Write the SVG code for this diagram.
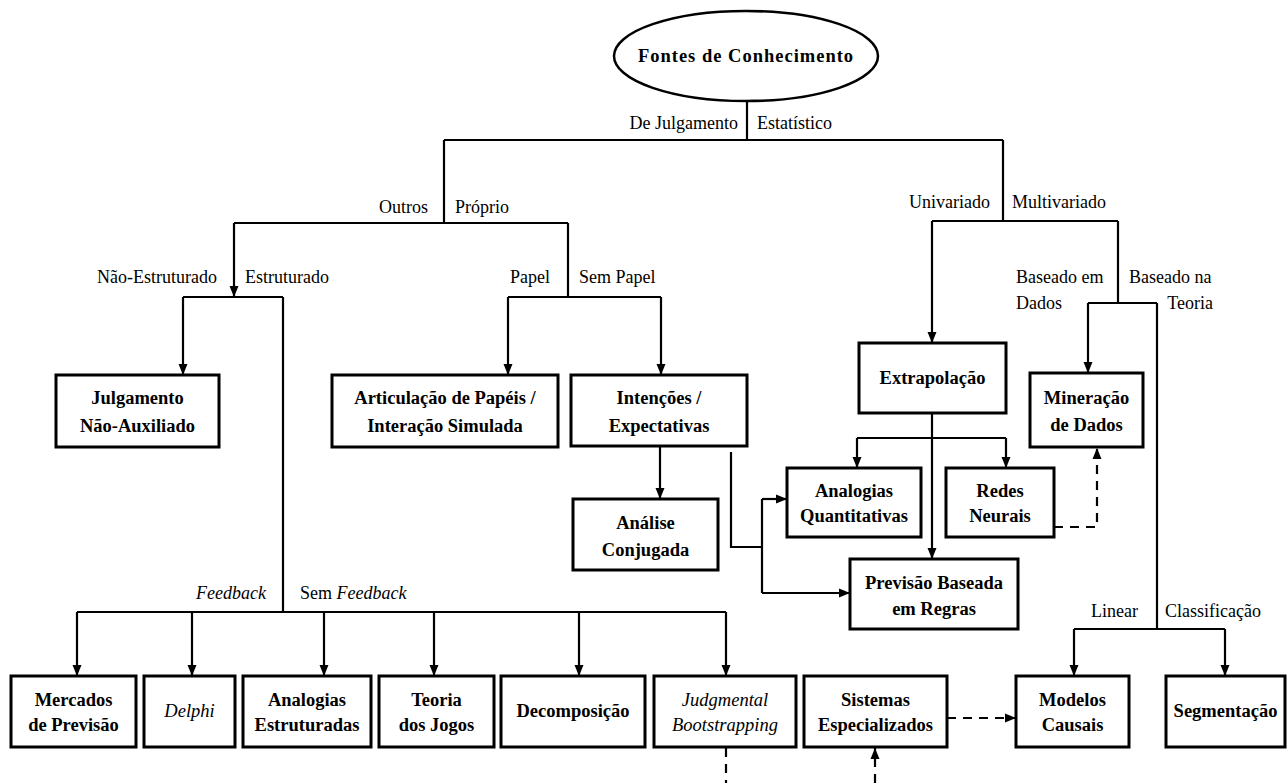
<svg xmlns="http://www.w3.org/2000/svg" width="1288" height="783" viewBox="0 0 1288 783">
<style>
.box{fill:#fff;stroke:#000;stroke-width:3}
.bt{font-family:"Liberation Serif","Times New Roman","DejaVu Serif",serif;font-size:18.5px;font-weight:bold;text-anchor:middle;fill:#000}
.it{font-family:"Liberation Serif","Times New Roman","DejaVu Serif",serif;font-size:18.5px;font-style:italic;text-anchor:middle;fill:#000}
.lb{font-family:"Liberation Serif","Times New Roman","DejaVu Serif",serif;font-size:18px;fill:#000}
.r{text-anchor:end}
.ln{fill:none;stroke:#000;stroke-width:2.2}
.ar{fill:none;stroke:#000;stroke-width:2.2;marker-end:url(#ah)}
.da{fill:none;stroke:#000;stroke-width:2.2;stroke-dasharray:9,7}
.dar{fill:none;stroke:#000;stroke-width:2.2;stroke-dasharray:9,7;marker-end:url(#ah)}
</style>
<defs>
<marker id="ah" markerUnits="userSpaceOnUse" markerWidth="12" markerHeight="12" viewBox="0 0 12 12" refX="11" refY="6" orient="auto">
<path d="M0,1.5 L11,6 L0,10.5 Z" fill="#000"/>
</marker>
</defs>
<rect width="1288" height="783" fill="#fff"/>

<g id="connectors">
<path class="ln" d="M747,101 V140 M444,140 H1003 M444,140 V223 M1003,140 V221"/>
<path class="ln" d="M234,223 H568 M568,223 V297 M183,297 H283 M283,297 V612 M508,297 H661"/>
<path class="ar" d="M234,223 V297"/>
<path class="ar" d="M183,297 V375"/>
<path class="ar" d="M508,297 V375"/>
<path class="ar" d="M661,297 V375"/>
<path class="ln" d="M932,221 H1118 M1118,221 V303 M1088,303 H1157 M1157,303 V629 M1074,629 H1225"/>
<path class="ar" d="M932,221 V343"/>
<path class="ar" d="M1088,303 V373"/>
<path class="ar" d="M1074,629 V676"/>
<path class="ar" d="M1225,629 V676"/>
<path class="ar" d="M932,413 V559"/>
<path class="ln" d="M857,438 H1006"/>
<path class="ar" d="M857,438 V468"/>
<path class="ar" d="M1006,438 V468"/>
<path class="ar" d="M660,446 V499"/>
<path class="ln" d="M731,452 V547 H762 M762,499 V593"/>
<path class="ar" d="M762,499 H787"/>
<path class="ar" d="M762,593 H850"/>
<path class="ln" d="M77,612 H726"/>
<path class="ar" d="M77,612 V676"/>
<path class="ar" d="M192,612 V676"/>
<path class="ar" d="M324,612 V676"/>
<path class="ar" d="M434,612 V676"/>
<path class="ar" d="M579,612 V676"/>
<path class="ar" d="M726,612 V676"/>
<path class="dar" d="M1054,527 H1097 V448"/>
<path class="dar" d="M947,718 H1016"/>
<path class="da" d="M726,748 V783"/>
<path class="dar" d="M875,783 V748"/>
</g>

<g id="labels">
<text class="lb r" x="738" y="129">De Julgamento</text>
<text class="lb" x="757" y="129">Estatístico</text>
<text class="lb r" x="428" y="213">Outros</text>
<text class="lb" x="455" y="213">Próprio</text>
<text class="lb r" x="990" y="208">Univariado</text>
<text class="lb" x="1012" y="208">Multivariado</text>
<text class="lb r" x="217" y="283">Não-Estruturado</text>
<text class="lb" x="245" y="283">Estruturado</text>
<text class="lb r" x="550" y="283">Papel</text>
<text class="lb" x="579" y="283">Sem Papel</text>
<text class="lb" x="1016" y="283">Baseado em</text>
<text class="lb" x="1016" y="309">Dados</text>
<text class="lb" x="1129" y="283">Baseado na</text>
<text class="lb r" x="1213" y="309">Teoria</text>
<text class="lb r" x="266" y="599" font-style="italic">Feedback</text>
<text class="lb" x="300" y="599">Sem <tspan font-style="italic">Feedback</tspan></text>
<text class="lb r" x="1138" y="617">Linear</text>
<text class="lb" x="1165" y="617">Classificação</text>
</g>

<g id="root">
<ellipse cx="746" cy="56" rx="132" ry="45" fill="#fff" stroke="#000" stroke-width="2.5"/>
<text class="bt" x="746" y="62" letter-spacing="1">Fontes de Conhecimento</text>
</g>

<g id="julgamento">
<rect class="box" x="56" y="375" width="163" height="72"/>
<text class="bt" x="137.5" y="404">Julgamento</text>
<text class="bt" x="137.5" y="432">Não-Auxiliado</text>
</g>
<g id="articulacao">
<rect class="box" x="332" y="375" width="226" height="72"/>
<text class="bt" x="445" y="404">Articulação de Papéis /</text>
<text class="bt" x="445" y="432">Interação Simulada</text>
</g>
<g id="intencoes">
<rect class="box" x="571" y="375" width="176" height="71"/>
<text class="bt" x="659" y="404">Intenções /</text>
<text class="bt" x="659" y="432">Expectativas</text>
</g>
<g id="extrapolacao">
<rect class="box" x="859" y="343" width="147" height="70"/>
<text class="bt" x="932.5" y="384">Extrapolação</text>
</g>
<g id="mineracao">
<rect class="box" x="1030" y="373" width="113" height="74"/>
<text class="bt" x="1086.5" y="404">Mineração</text>
<text class="bt" x="1086.5" y="431">de Dados</text>
</g>
<g id="analise">
<rect class="box" x="573" y="499" width="145" height="71"/>
<text class="bt" x="645.5" y="529">Análise</text>
<text class="bt" x="645.5" y="556">Conjugada</text>
</g>
<g id="analogiasq">
<rect class="box" x="787" y="468" width="134" height="69"/>
<text class="bt" x="854" y="497">Analogias</text>
<text class="bt" x="854" y="522">Quantitativas</text>
</g>
<g id="redes">
<rect class="box" x="946" y="468" width="108" height="69"/>
<text class="bt" x="1000" y="497">Redes</text>
<text class="bt" x="1000" y="522">Neurais</text>
</g>
<g id="previsao">
<rect class="box" x="850" y="559" width="168" height="70"/>
<text class="bt" x="934" y="589">Previsão Baseada</text>
<text class="bt" x="934" y="615">em Regras</text>
</g>
<g id="mercados">
<rect class="box" x="11" y="676" width="125" height="71"/>
<text class="bt" x="73.5" y="706">Mercados</text>
<text class="bt" x="73.5" y="731">de Previsão</text>
</g>
<g id="delphi">
<rect class="box" x="144" y="676" width="91" height="71"/>
<text class="it" x="189.5" y="717">Delphi</text>
</g>
<g id="analogiase">
<rect class="box" x="243" y="676" width="128" height="71"/>
<text class="bt" x="307" y="706">Analogias</text>
<text class="bt" x="307" y="731">Estruturadas</text>
</g>
<g id="teoria">
<rect class="box" x="379" y="676" width="115" height="71"/>
<text class="bt" x="436.5" y="706">Teoria</text>
<text class="bt" x="436.5" y="731">dos Jogos</text>
</g>
<g id="decomposicao">
<rect class="box" x="501" y="676" width="144" height="71"/>
<text class="bt" x="573" y="717">Decomposição</text>
</g>
<g id="judgmental">
<rect class="box" x="654" y="676" width="142" height="71"/>
<text class="it" x="725" y="706">Judgmental</text>
<text class="it" x="725" y="731">Bootstrapping</text>
</g>
<g id="sistemas">
<rect class="box" x="804" y="676" width="143" height="71"/>
<text class="bt" x="875.5" y="706">Sistemas</text>
<text class="bt" x="875.5" y="731">Especializados</text>
</g>
<g id="modelos">
<rect class="box" x="1016" y="676" width="113" height="71"/>
<text class="bt" x="1072.5" y="706">Modelos</text>
<text class="bt" x="1072.5" y="731">Causais</text>
</g>
<g id="segmentacao">
<rect class="box" x="1166" y="676" width="119" height="71"/>
<text class="bt" x="1225.5" y="717">Segmentação</text>
</g>
</svg>
